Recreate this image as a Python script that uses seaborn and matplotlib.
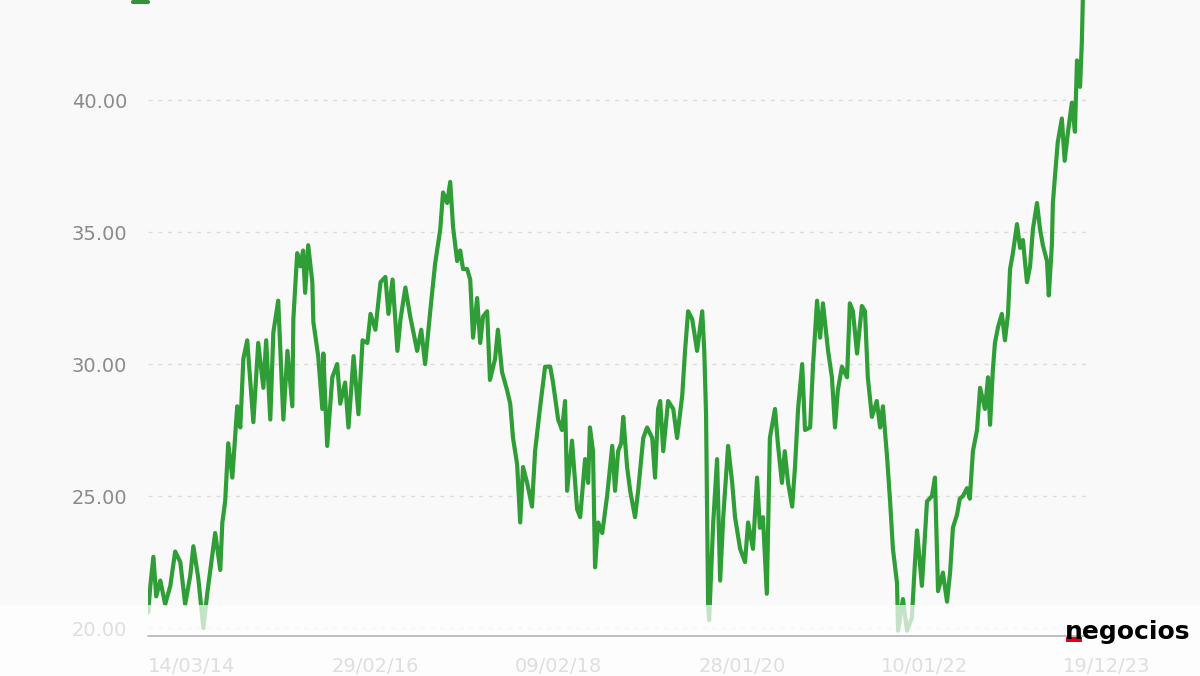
import pandas as pd
import matplotlib.pyplot as plt
import matplotlib.dates as mdates
from matplotlib.lines import Line2D
from matplotlib.patches import Rectangle
import seaborn as sns

# closing price (dates approximate)
dates = [
    # 2014
    '2014-03-14', '2014-03-22', '2014-04-03', '2014-04-14', '2014-04-30', '2014-05-19', '2014-06-08',
    '2014-06-27', '2014-07-17', '2014-08-05', '2014-08-25', '2014-09-06', '2014-09-25', '2014-10-15',
    '2014-10-30', '2014-11-19', '2014-11-30', '2014-12-20', '2014-12-28',
    # 2015
    '2015-01-08', '2015-01-20', '2015-02-05', '2015-02-24', '2015-03-08', '2015-03-20', '2015-04-04',
    '2015-04-28', '2015-05-17', '2015-06-06', '2015-06-17', '2015-07-03', '2015-07-15', '2015-08-03',
    '2015-08-23', '2015-09-08', '2015-09-27', '2015-10-01', '2015-10-16', '2015-10-28', '2015-11-08',
    '2015-11-16', '2015-11-28', '2015-12-14', '2015-12-18',
    # 2016
    '2016-01-06', '2016-01-22', '2016-01-26', '2016-02-10', '2016-03-01', '2016-03-20', '2016-04-01',
    '2016-04-20', '2016-05-03', '2016-05-23', '2016-06-11', '2016-06-27', '2016-07-16', '2016-07-28',
    '2016-08-16', '2016-09-05', '2016-09-24', '2016-10-06', '2016-10-22', '2016-11-10', '2016-11-22',
    '2016-12-11', '2016-12-30',
    # 2017
    '2017-01-26', '2017-02-11', '2017-02-26', '2017-03-18', '2017-04-06', '2017-04-26', '2017-05-07',
    '2017-05-23', '2017-06-04', '2017-06-15', '2017-07-01', '2017-07-13', '2017-07-24', '2017-08-09',
    '2017-08-21', '2017-09-01', '2017-09-17', '2017-09-29', '2017-10-10', '2017-10-26', '2017-11-06',
    '2017-11-26', '2017-12-07', '2017-12-23',
    # 2018
    '2018-01-12', '2018-01-24', '2018-02-04', '2018-02-20', '2018-03-04', '2018-03-15', '2018-03-31',
    '2018-04-19', '2018-05-01', '2018-05-21', '2018-06-09', '2018-06-29', '2018-07-10', '2018-07-30',
    '2018-08-14', '2018-08-26', '2018-09-03', '2018-09-22', '2018-10-12', '2018-10-24', '2018-11-12',
    '2018-11-24', '2018-12-01', '2018-12-13', '2018-12-21',
    # 2019
    '2019-01-02', '2019-01-18', '2019-02-06', '2019-02-26', '2019-03-09', '2019-03-21', '2019-04-02',
    '2019-04-10', '2019-04-25', '2019-05-07', '2019-05-26', '2019-06-07', '2019-06-27', '2019-07-12',
    '2019-08-01', '2019-08-12', '2019-08-24', '2019-09-01', '2019-09-13', '2019-10-02', '2019-10-22',
    '2019-11-06', '2019-11-26', '2019-12-07', '2019-12-19',
    # 2020
    '2020-01-04', '2020-01-23', '2020-02-12', '2020-02-20', '2020-02-27', '2020-03-06', '2020-03-10',
    '2020-03-26', '2020-04-10', '2020-04-22', '2020-05-04', '2020-05-23', '2020-06-08', '2020-06-19',
    '2020-07-09', '2020-07-28', '2020-08-09', '2020-08-28', '2020-09-13', '2020-09-24', '2020-10-06',
    '2020-10-21', '2020-11-02', '2020-11-22', '2020-12-03', '2020-12-19', '2020-12-30',
    # 2021
    '2021-01-12', '2021-01-28', '2021-02-08', '2021-02-20', '2021-03-08', '2021-03-19', '2021-04-08',
    '2021-04-19', '2021-05-05', '2021-05-17', '2021-05-28', '2021-06-17', '2021-07-02', '2021-07-14',
    '2021-07-25', '2021-08-10', '2021-08-30', '2021-09-10', '2021-09-22', '2021-10-08', '2021-10-27',
    '2021-11-08', '2021-11-19', '2021-12-05', '2021-12-24',
    # 2022
    '2022-01-06', '2022-01-17', '2022-02-02', '2022-02-14', '2022-02-25', '2022-03-13', '2022-03-17',
    '2022-04-05', '2022-04-21', '2022-05-10', '2022-05-22', '2022-05-30', '2022-06-18', '2022-07-08',
    '2022-07-27', '2022-08-08', '2022-08-20', '2022-09-08', '2022-09-24', '2022-10-06', '2022-10-17',
    '2022-11-02', '2022-11-13', '2022-11-25', '2022-12-11', '2022-12-22',
    # 2023
    '2023-01-03', '2023-01-19', '2023-01-31', '2023-02-19', '2023-03-03', '2023-03-11', '2023-03-22',
    '2023-03-30', '2023-04-11', '2023-04-26', '2023-05-08', '2023-05-20', '2023-05-28', '2023-06-08',
    '2023-06-24', '2023-07-06', '2023-07-17', '2023-08-02', '2023-08-14', '2023-08-25', '2023-09-10',
    '2023-09-22', '2023-10-03', '2023-10-19', '2023-10-26', '2023-11-07', '2023-11-11', '2023-11-19',
    '2023-11-30', '2023-12-16', '2023-12-27',
    # 2024
    '2024-01-09', '2024-01-24', '2024-02-05', '2024-02-13', '2024-02-25', '2024-03-03', '2024-03-07',
]

prices = [
    # 2014
    20.6, 21.6, 22.7, 21.2, 21.8, 20.9, 21.6, 22.9, 22.5, 20.9, 22.0, 23.1, 21.9, 20.0,
    21.3, 22.8, 23.6, 22.2, 24.0,
    # 2015
    24.8, 27.0, 25.7, 28.4, 27.6, 30.2, 30.9, 27.8, 30.8, 29.1, 30.9, 27.9, 31.2, 32.4,
    27.9, 30.5, 28.4, 31.7, 34.2, 33.7, 34.3, 32.7, 34.5, 33.1, 31.6,
    # 2016
    30.3, 28.3, 30.4, 26.9, 29.5, 30.0, 28.5, 29.3, 27.6, 30.3, 28.1, 30.9, 30.8, 31.9,
    31.3, 33.1, 33.3, 31.9, 33.2, 30.5, 31.7, 32.9, 31.8,
    # 2017
    30.5, 31.3, 30.0, 32.0, 33.8, 35.1, 36.5, 36.1, 36.9, 35.2, 33.9, 34.3, 33.6, 33.6,
    33.2, 31.0, 32.5, 30.8, 31.8, 32.0, 29.4, 30.2, 31.3, 29.7,
    # 2018
    29.0, 28.5, 27.2, 26.2, 24.0, 26.1, 25.5, 24.6, 26.7, 28.4, 29.9, 29.9, 29.3, 27.9,
    27.5, 28.6, 25.2, 27.1, 24.5, 24.2, 26.4, 25.5, 27.6, 26.7, 22.3,
    # 2019
    24.0, 23.6, 25.0, 26.9, 25.2, 26.7, 27.0, 28.0, 26.1, 25.2, 24.2, 25.2, 27.2, 27.6,
    27.2, 25.7, 28.3, 28.6, 26.7, 28.6, 28.3, 27.2, 28.8, 30.5, 32.0,
    # 2020
    31.7, 30.5, 32.0, 30.5, 28.1, 20.9, 20.3, 24.0, 26.4, 21.8, 24.2, 26.9, 25.5, 24.2,
    23.0, 22.5, 24.0, 23.0, 25.7, 23.8, 24.2, 21.3, 27.2, 28.3, 27.0, 25.5, 26.7,
    # 2021
    25.5, 24.6, 26.1, 28.3, 30.0, 27.5, 27.6, 29.9, 32.4, 31.0, 32.3, 30.5, 29.5, 27.6,
    29.0, 29.9, 29.5, 32.3, 32.0, 30.4, 32.2, 32.0, 29.5, 28.0, 28.6,
    # 2022
    27.6, 28.4, 26.5, 24.8, 23.0, 21.7, 19.9, 21.1, 19.9, 20.4, 22.5, 23.7, 21.6, 24.8,
    25.0, 25.7, 21.4, 22.1, 21.0, 22.1, 23.8, 24.3, 24.9, 25.0, 25.3, 24.9,
    # 2023
    26.7, 27.5, 29.1, 28.3, 29.5, 27.7, 29.8, 30.8, 31.4, 31.9, 30.9, 31.9, 33.6, 34.2,
    35.3, 34.4, 34.7, 33.1, 33.7, 35.1, 36.1, 35.1, 34.5, 33.9, 32.6, 34.5, 36.1, 37.1,
    38.4, 39.3, 37.7,
    # 2024
    38.8, 39.9, 38.8, 41.5, 40.5, 42.2, 43.9,
]

tick_dates = ['2014-03-14', '2016-02-29', '2018-02-09', '2020-01-28', '2022-01-10', '2023-12-19']
y_ticks = [20, 25, 30, 35, 40]

df = pd.DataFrame({'date': pd.to_datetime(dates), 'price': prices})

sns.set_style('white')
plt.rcParams['font.family'] = ['DejaVu Sans']

bg = '#f9f9f9'
green = '#2f9e36'
grey_txt = '#8a8a8a'

fig = plt.figure(figsize=(12, 6.76), dpi=100, facecolor=bg)
ax = fig.add_axes([148 / 1200, 1 - 636 / 676, 940 / 1200, 636 / 676])
ax.set_facecolor(bg)

sns.lineplot(data=df, x='date', y='price', ax=ax, color=green, linewidth=3.0, zorder=3)

ax.set_ylim(19.7, 43.79)
ax.set_xlim(pd.Timestamp('2014-03-13'), pd.Timestamp('2024-03-27'))

ax.set_yticks(y_ticks)
ax.set_yticklabels([f'{v:.2f}' for v in y_ticks])
ax.set_xticks(pd.to_datetime(tick_dates))
ax.xaxis.set_major_formatter(mdates.DateFormatter('%d/%m/%y'))
for lab in ax.get_xticklabels():
    lab.set_horizontalalignment('left')

ax.tick_params(axis='y', length=0, pad=15, labelsize=14, labelcolor=grey_txt)
ax.tick_params(axis='x', length=6, width=0.8, color='#dddddd', pad=9, labelsize=14, labelcolor=grey_txt)

ax.grid(axis='y', color='#dcdcdc', linestyle=(0, (3, 4)), linewidth=1)
ax.grid(axis='x', visible=False)
ax.set_xlabel('')
ax.set_ylabel('')

for side in ['top', 'right', 'left', 'bottom']:
    ax.spines[side].set_visible(False)

# cut-off legend marker at the top left
fig.add_artist(Line2D([133 / 1200, 148 / 1200], [1 - 2 / 676, 1 - 2 / 676],
                      color='#3a8f3e', linewidth=3, transform=fig.transFigure))

# pale white band over the bottom of the picture
fig.add_artist(Rectangle((0, 0), 1, 71 / 676, transform=fig.transFigure,
                         facecolor='white', edgecolor='none', alpha=0.72, zorder=10))

# baseline stays visible above the band
fig.add_artist(Line2D([148 / 1200, 1088 / 1200], [1 - 636 / 676, 1 - 636 / 676],
                      color='#b3b3b3', linewidth=1.2, transform=fig.transFigure, zorder=11))

# logo
fig.add_artist(Rectangle((1066 / 1200, 1 - 642 / 676), 16 / 1200, 5 / 676, transform=fig.transFigure,
                         facecolor='#e2001a', edgecolor='none', zorder=12))
fig.text(1065 / 1200, 1 - 639 / 676, 'negocios', fontsize=18, fontweight='bold',
         color='black', ha='left', va='baseline', zorder=13)

fig.savefig('out.png', dpi=100, facecolor=bg)
